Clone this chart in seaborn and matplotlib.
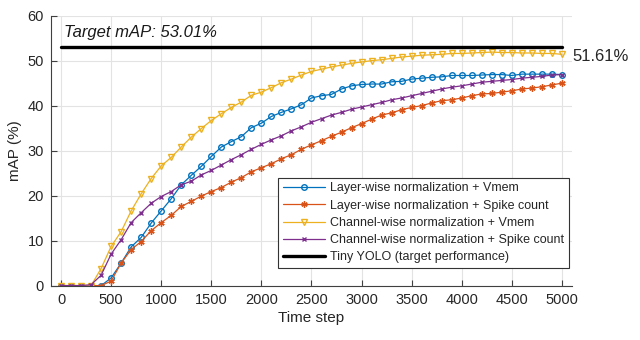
import matplotlib
matplotlib.use("Agg")
import matplotlib.pyplot as plt
import seaborn as sns
import numpy as np
import pandas as pd

time_step = list(range(0, 5001, 100))

layer_vmem = [0, 0, 0, 0, 0, 1.7, 5.0, 8.6, 10.7, 13.9, 16.6, 19.3, 22.4, 24.5, 26.5, 28.7,
              30.8, 32.0, 33.1, 35.1, 36.1, 37.6, 38.5, 39.3, 40.2, 41.7, 42.2, 42.5, 43.7, 44.4,
              44.7, 44.8, 44.8, 45.3, 45.4, 45.9, 46.1, 46.3, 46.4, 46.7, 46.7, 46.7, 46.8, 46.9,
              46.9, 46.7, 47.0, 47.0, 47.0, 47.0, 46.9]
layer_spike = [0, 0, 0, 0, 0, 1.0, 5.0, 8.0, 9.8, 12.2, 14.0, 15.6, 17.6, 18.7, 19.9, 20.9,
               21.8, 23.0, 24.0, 25.3, 26.2, 27.1, 28.2, 29.1, 30.3, 31.3, 32.2, 33.2, 34.1, 35.1,
               36.0, 37.0, 37.9, 38.4, 39.1, 39.6, 40.0, 40.6, 41.1, 41.3, 41.7, 42.2, 42.6, 42.7,
               43.0, 43.3, 43.7, 43.9, 44.2, 44.6, 45.0]
channel_vmem = [0, 0, 0, 0, 3.8, 8.7, 12.0, 16.6, 20.4, 23.8, 26.6, 28.5, 30.8, 33.0, 34.9, 36.7,
                38.2, 39.6, 40.8, 42.3, 43.0, 44.0, 45.1, 45.9, 46.8, 47.6, 48.1, 48.6, 49.0, 49.4,
                49.7, 50.0, 50.2, 50.5, 50.8, 51.0, 51.2, 51.3, 51.4, 51.6, 51.6, 51.7, 51.8, 51.9,
                51.8, 51.8, 51.7, 51.7, 51.6, 51.6, 51.4]
channel_spike = [0, 0, 0, 0.2, 2.3, 7.0, 10.2, 14.0, 16.2, 18.3, 19.8, 20.9, 22.4, 23.2, 24.6, 25.6,
                 26.8, 28.0, 29.1, 30.3, 31.4, 32.4, 33.3, 34.4, 35.3, 36.3, 37.1, 37.9, 38.5, 39.2,
                 39.7, 40.2, 40.7, 41.3, 41.7, 42.2, 42.7, 43.2, 43.7, 44.1, 44.4, 44.8, 45.2, 45.4,
                 45.6, 45.8, 46.1, 46.3, 46.5, 46.8, 46.9]
target_x = [0, 5000]
target_y = [53.01, 53.01]

labels = ["Layer-wise normalization + Vmem",
          "Layer-wise normalization + Spike count",
          "Channel-wise normalization + Vmem",
          "Channel-wise normalization + Spike count",
          "Tiny YOLO (target performance)"]
target_text = "Target mAP: 53.01%"
final_text = "51.61%"

sns.set_theme(style="white")
plt.rcParams['font.family'] = ['Liberation Sans', 'DejaVu Sans']

fig = plt.figure(figsize=(6.4, 3.4), dpi=100)
ax = fig.add_axes([0.0797, 0.160, 0.814, 0.794])

grid_c = "#e3e3e3"
ax.set_axisbelow(True)
ax.grid(True, color=grid_c, linewidth=0.8)

series = [
    (layer_vmem, "#0072BD", "o", 4.0, "none"),
    (layer_spike, "#D95319", (6, 2, 0), 4.5, "#D95319"),
    (channel_vmem, "#EDB120", "v", 4.8, "none"),
    (channel_spike, "#7E2F8E", "x", 3.5, "#7E2F8E"),
]
for (vals, col, mk, ms, mfc), lab in zip(series, labels[:4]):
    sns.lineplot(x=time_step, y=vals, ax=ax, color=col, marker=mk, markersize=ms,
                 markerfacecolor=mfc, markeredgecolor=col, markeredgewidth=1.0,
                 linewidth=0.9, label=lab)

sns.lineplot(x=target_x, y=target_y, ax=ax, color="black", linewidth=2.4, label=labels[4])

ax.set_xlim(-100, 5100)
ax.set_ylim(0, 60)
ax.set_xticks(range(0, 5001, 500))
ax.set_yticks(range(0, 61, 10))
ax.tick_params(direction="in", length=4, width=0.8, colors="#404040", labelsize=10.5,
               labelcolor="#262626", bottom=True, left=True, pad=5)
for s in ["top", "right"]:
    ax.spines[s].set_visible(False)
for s in ["left", "bottom"]:
    ax.spines[s].set_color("#404040")
    ax.spines[s].set_linewidth(0.8)

ax.set_xlabel("Time step", fontsize=11, color="#262626", labelpad=3)
ax.set_ylabel("mAP (%)", fontsize=11, color="#262626", labelpad=4)

ax.text(30, 56.3, target_text, fontsize=12, style="italic", color="#1a1a1a", va="center", ha="left")
ax.text(5100, 51.0, final_text, fontsize=12, color="#262626", va="center", ha="left")

leg = ax.legend(loc="lower right", bbox_to_anchor=(0.994, 0.066), fontsize=9,
                frameon=True, fancybox=False, framealpha=1, edgecolor="#333333",
                handlelength=3.4, labelspacing=0.42, borderpad=0.35, handletextpad=0.4,
                borderaxespad=0)
leg.get_frame().set_linewidth(0.8)
for t in leg.get_texts():
    t.set_color("#262626")

fig.savefig("out.png", dpi=100)
